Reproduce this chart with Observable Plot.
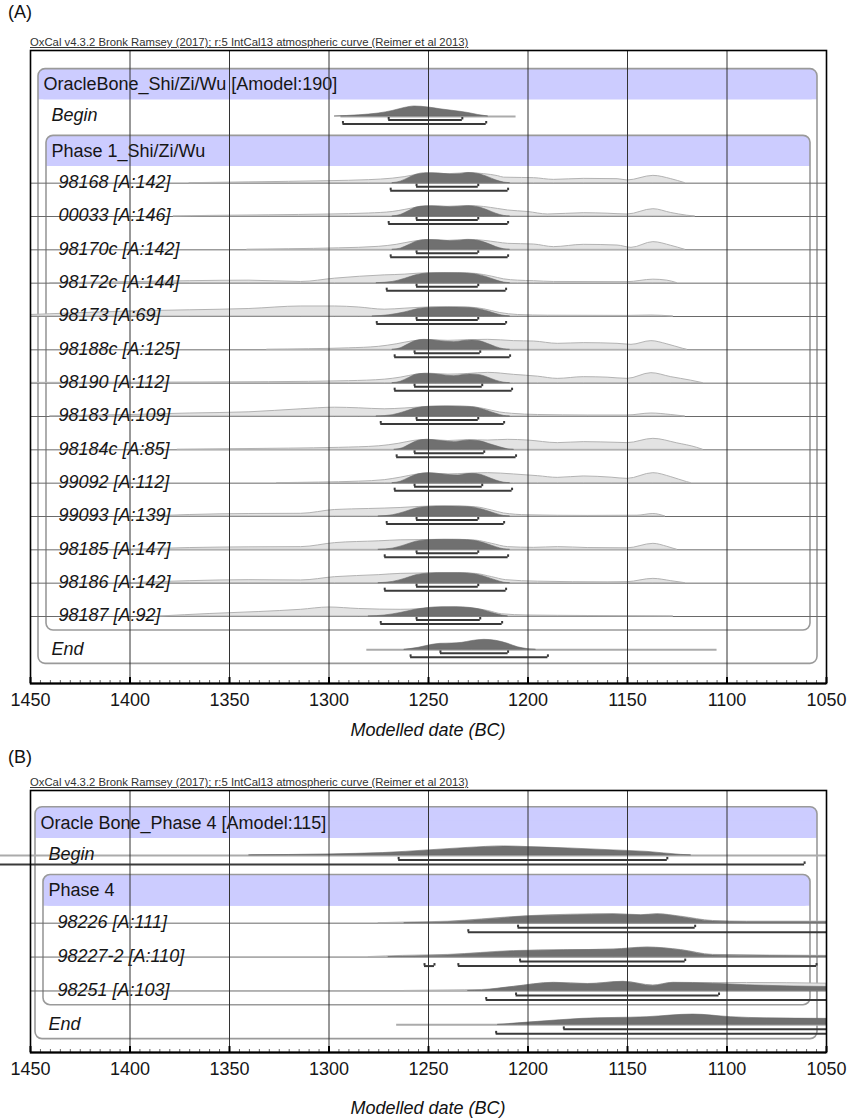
<!DOCTYPE html>
<html><head><meta charset="utf-8">
<script src="https://cdn.jsdelivr.net/npm/d3@7"></script>
<script src="https://cdn.jsdelivr.net/npm/@observablehq/plot@0.6"></script>
<style>
body{margin:0;background:#fff;font-family:"Liberation Sans",Arial,sans-serif;color:#111;}
#page{position:relative;width:848px;height:1118px;overflow:hidden;background:#fff;}
.abs{position:absolute;line-height:1;white-space:nowrap;}
.pl{font-size:18px;left:8px;}
.cap{font-size:11.3px;text-decoration:underline;color:#333;left:30px;}
.xt{font-style:italic;font-size:18px;left:30px;width:796px;text-align:center;}
</style></head><body><div id="page"></div>
<script>
const years = [1450,1400,1350,1300,1250,1200,1150,1100,1050];
const caption = "OxCal v4.3.2 Bronk Ramsey (2017); r:5 IntCal13 atmospheric curve (Reimer et al 2013)";
const axisTitle = "Modelled date (BC)";
const panelNames = ["(A)", "(B)"];

// ---------- Panel A ----------
const labelsA = ["OracleBone_Shi/Zi/Wu [Amodel:190]","Begin","Phase 1_Shi/Zi/Wu","98168 [A:142]","00033 [A:146]","98170c [A:142]","98172c [A:144]","98173 [A:69]","98188c [A:125]","98190 [A:112]","98183 [A:109]","98184c [A:85]","99092 [A:112]","99093 [A:139]","98185 [A:147]","98186 [A:142]","98187 [A:92]","End"];
const kindsA = ["group","boundary","phase","sample","sample","sample","sample","sample","sample","sample","sample","sample","sample","sample","sample","sample","sample","boundary"];
const spansA = [null,[1294,1206],null,[1450,1050],[1450,1050],[1450,1050],[1450,1050],[1450,1050],[1450,1050],[1450,1050],[1450,1050],[1450,1050],[1450,1050],[1450,1050],[1450,1050],[1450,1050],[1450,1050],[1281,1105]];
const r68A = [null,[1270,1233],null,[1256,1225],[1256,1225],[1256,1225],[1256,1225],[1256,1225],[1257,1224],[1257,1223],[1256,1225],[1257,1222],[1257,1223],[1256,1225],[1256,1225],[1256,1225],[1256,1224],[1244,1210]];
const r95A = [null,[[1293,1221]],null,[[1269,1210]],[[1270,1210]],[[1269,1210]],[[1271,1211]],[[1276,1211]],[[1267,1209]],[[1267,1208]],[[1274,1212]],[[1266,1206]],[[1267,1208]],[[1271,1212]],[[1272,1210]],[[1272,1211]],[[1274,1213]],[[1259,1190]]];
const postA = [
 null,
 [[1297,0],[1285,0.12],[1275,0.3],[1268,0.55],[1262,0.85],[1257,1.0],[1250,0.9],[1244,0.72],[1238,0.57],[1230,0.35],[1225,0.15],[1220,0]],
 null,
 [[1268,0],[1264,0.15],[1260,0.5],[1256,0.85],[1251,1.0],[1245,0.97],[1239,0.87],[1234,0.9],[1230,1.02],[1225,0.92],[1220,0.6],[1216,0.28],[1212,0.06],[1209,0]],
 [[1268,0],[1264,0.15],[1260,0.52],[1256,0.9],[1251,1.02],[1245,1.0],[1239,0.93],[1234,0.97],[1230,1.02],[1225,0.93],[1220,0.6],[1216,0.28],[1212,0.06],[1209,0]],
 [[1268,0],[1264,0.12],[1260,0.45],[1256,0.82],[1251,0.98],[1245,0.95],[1239,0.86],[1234,0.9],[1230,0.98],[1225,0.9],[1220,0.6],[1216,0.28],[1212,0.06],[1209,0]],
 [[1276,0],[1268,0.12],[1262,0.42],[1256,0.8],[1250,0.97],[1242,1.0],[1234,0.98],[1227,0.9],[1221,0.62],[1216,0.28],[1212,0.06],[1209,0]],
 [[1278,0],[1270,0.12],[1262,0.4],[1255,0.75],[1248,0.88],[1240,0.9],[1232,0.88],[1226,0.78],[1220,0.5],[1215,0.2],[1211,0.04],[1209,0]],
 [[1268,0],[1264,0.15],[1260,0.55],[1256,0.9],[1252,1.0],[1246,0.92],[1241,0.8],[1237,0.77],[1232,0.88],[1228,0.93],[1224,0.85],[1220,0.58],[1216,0.27],[1212,0.05],[1209,0]],
 [[1268,0],[1264,0.14],[1260,0.5],[1256,0.85],[1252,0.93],[1246,0.87],[1241,0.75],[1237,0.7],[1232,0.82],[1229,0.87],[1224,0.8],[1220,0.55],[1216,0.25],[1212,0.05],[1209,0]],
 [[1276,0],[1268,0.13],[1262,0.45],[1256,0.82],[1250,0.97],[1242,1.0],[1234,0.98],[1227,0.9],[1221,0.6],[1216,0.27],[1212,0.06],[1209,0]],
 [[1267,0],[1263,0.15],[1259,0.55],[1255,0.9],[1251,1.0],[1245,0.9],[1240,0.8],[1237,0.77],[1233,0.87],[1229,0.93],[1224,0.85],[1219,0.55],[1214,0.25],[1210,0.05],[1207,0]],
 [[1268,0],[1264,0.14],[1260,0.5],[1255,0.88],[1250,1.0],[1244,0.9],[1239,0.8],[1235,0.77],[1231,0.9],[1228,0.93],[1224,0.85],[1220,0.57],[1216,0.26],[1212,0.05],[1209,0]],
 [[1275,0],[1268,0.12],[1262,0.43],[1256,0.8],[1250,0.96],[1242,1.0],[1234,0.98],[1227,0.88],[1221,0.58],[1216,0.26],[1212,0.05],[1209,0]],
 [[1275,0],[1268,0.12],[1262,0.44],[1256,0.82],[1250,0.97],[1242,1.0],[1234,0.99],[1227,0.9],[1221,0.6],[1216,0.27],[1212,0.05],[1209,0]],
 [[1275,0],[1268,0.12],[1262,0.42],[1256,0.8],[1250,0.95],[1242,1.0],[1234,1.0],[1227,0.9],[1221,0.6],[1216,0.27],[1212,0.05],[1209,0]],
 [[1280,0],[1272,0.1],[1264,0.35],[1257,0.65],[1250,0.85],[1243,0.93],[1236,0.93],[1229,0.85],[1223,0.65],[1218,0.35],[1213,0.1],[1210,0]],
 [[1262,0],[1255,0.2],[1248,0.5],[1244,0.6],[1238,0.63],[1233,0.7],[1228,0.88],[1222,1.0],[1216,0.9],[1210,0.6],[1205,0.25],[1200,0.07],[1196,0]]
];
const likeA = [
 null, null, null,
 [[1370,0],[1340,0.08],[1300,0.2],[1280,0.3],[1268,0.45],[1262,0.6],[1255,0.85],[1248,0.95],[1240,0.9],[1230,1.0],[1222,0.9],[1215,0.7],[1212,0.55],[1203,0.52],[1197,0.5],[1187,0.33],[1172,0.43],[1155,0.4],[1150,0.27],[1137,0.73],[1128,0.4],[1121,0]],
 [[1378,0],[1360,0.06],[1330,0.12],[1300,0.2],[1280,0.3],[1268,0.45],[1262,0.65],[1255,0.9],[1248,1.0],[1240,0.97],[1230,1.05],[1222,0.95],[1215,0.75],[1210,0.6],[1200,0.45],[1190,0.2],[1172,0.33],[1160,0.28],[1150,0.2],[1137,0.73],[1128,0.35],[1120,0.08],[1116,0]],
 [[1341,0],[1320,0.06],[1295,0.15],[1275,0.3],[1266,0.5],[1258,0.8],[1250,0.95],[1240,0.9],[1230,1.0],[1222,0.9],[1215,0.72],[1210,0.6],[1197,0.53],[1187,0.27],[1172,0.5],[1155,0.43],[1148,0.2],[1137,0.77],[1128,0.4],[1121,0]],
 [[1440,0],[1400,0.1],[1370,0.2],[1340,0.25],[1314,0.12],[1297,0.45],[1272,0.78],[1262,0.85],[1255,0.95],[1245,1.0],[1235,1.0],[1226,0.92],[1218,0.65],[1212,0.38],[1205,0.25],[1197,0.2],[1187,0.12],[1150,0.1],[1137,0.35],[1130,0.25],[1125,0]],
 [[1450,0.15],[1430,0.3],[1400,0.5],[1370,0.62],[1340,0.75],[1314,1.0],[1297,1.0],[1285,0.9],[1272,0.68],[1262,0.78],[1250,0.9],[1240,0.92],[1230,0.9],[1222,0.72],[1214,0.35],[1205,0.15],[1190,0.08],[1150,0.06],[1138,0.1],[1127,0]],
 [[1331,0],[1310,0.06],[1290,0.15],[1275,0.3],[1266,0.55],[1258,0.85],[1250,0.97],[1240,0.9],[1230,0.97],[1220,1.0],[1207,0.87],[1197,0.83],[1185,0.6],[1172,0.67],[1155,0.6],[1148,0.5],[1138,0.87],[1130,0.55],[1122,0.1],[1120,0]],
 [[1450,0.03],[1400,0.05],[1330,0.1],[1290,0.2],[1272,0.35],[1264,0.55],[1256,0.85],[1250,0.95],[1240,0.85],[1230,0.92],[1220,1.03],[1207,0.83],[1195,0.65],[1185,0.43],[1172,0.6],[1160,0.55],[1150,0.43],[1138,1.0],[1128,0.6],[1118,0.25],[1112,0]],
 [[1440,0.02],[1420,0.08],[1400,0.15],[1370,0.3],[1340,0.42],[1314,0.72],[1297,0.88],[1285,0.82],[1272,0.72],[1262,0.8],[1250,0.95],[1240,1.0],[1230,0.97],[1222,0.75],[1214,0.4],[1208,0.27],[1195,0.15],[1170,0.1],[1150,0.1],[1138,0.3],[1128,0.15],[1121,0]],
 [[1376,0],[1350,0.06],[1320,0.12],[1295,0.2],[1275,0.35],[1265,0.6],[1257,0.9],[1250,1.0],[1240,0.88],[1230,0.97],[1220,0.93],[1210,1.0],[1200,0.93],[1185,0.67],[1172,0.77],[1155,0.7],[1150,0.67],[1137,1.1],[1125,0.65],[1115,0.2],[1112,0]],
 [[1326,0],[1305,0.06],[1285,0.15],[1272,0.3],[1264,0.55],[1256,0.85],[1250,0.97],[1240,0.87],[1230,0.95],[1220,1.0],[1207,0.87],[1195,0.7],[1185,0.53],[1172,0.67],[1158,0.55],[1150,0.43],[1137,1.0],[1128,0.6],[1120,0.1],[1118,0]],
 [[1390,0],[1370,0.15],[1340,0.25],[1314,0.27],[1297,0.65],[1280,0.75],[1264,0.85],[1255,0.95],[1245,1.0],[1235,1.0],[1226,0.92],[1218,0.6],[1212,0.3],[1200,0.12],[1170,0.06],[1145,0.08],[1137,0.25],[1131,0]],
 [[1400,0],[1370,0.18],[1340,0.25],[1314,0.27],[1297,0.67],[1275,0.85],[1264,0.95],[1255,0.97],[1245,1.0],[1235,1.0],[1226,0.92],[1218,0.6],[1210,0.27],[1197,0.2],[1185,0.27],[1170,0.18],[1150,0.15],[1137,0.6],[1130,0.3],[1125,0]],
 [[1400,0],[1370,0.2],[1340,0.3],[1314,0.27],[1297,0.6],[1275,0.8],[1264,0.93],[1255,0.96],[1245,1.0],[1235,1.0],[1226,0.92],[1218,0.6],[1211,0.3],[1195,0.15],[1160,0.08],[1150,0.1],[1137,0.43],[1128,0.2],[1121,0]],
 [[1385,0],[1360,0.25],[1335,0.45],[1314,0.67],[1300,0.9],[1285,0.75],[1264,0.67],[1255,0.72],[1245,0.85],[1236,0.88],[1228,0.8],[1220,0.55],[1213,0.22],[1200,0.1],[1170,0.05],[1127,0]],
 null
];

// ---------- Panel B ----------
const labelsB = ["Oracle Bone_Phase 4 [Amodel:115]","Begin","Phase 4","98226 [A:111]","98227-2 [A:110]","98251 [A:103]","End"];
const kindsB = ["group","boundary","phase","sample","sample","sample","boundary"];
const spansB = [null,[1466,1050],null,[1450,1050],[1450,1050],[1450,1050],[1266,1050]];
const r68B = [null,[1265,1130],null,[1205,1116],[1204,1121],[1206,1104],[1182,1050]];
const r95B = [null,[[1466,1061]],null,[[1230,1050]],[[1252,1247],[1235,1055]],[[1221,1050]],[[1216,1050]]];
const postB = [
 null,
 [[1340,0],[1300,0.1],[1273,0.23],[1250,0.5],[1230,0.75],[1212,0.9],[1200,0.83],[1180,0.7],[1157,0.5],[1140,0.35],[1123,0.05],[1118,0]],
 null,
 [[1262,0],[1240,0.1],[1223,0.33],[1200,0.67],[1175,0.8],[1157,0.87],[1143,0.77],[1135,0.87],[1123,0.6],[1107,0.17],[1090,0.1],[1050,0.1]],
 [[1270,0],[1257,0.07],[1240,0.17],[1207,0.57],[1180,0.68],[1157,0.73],[1140,0.93],[1123,0.67],[1107,0.17],[1050,0.07]],
 [[1230,0],[1223,0.05],[1207,0.4],[1187,0.8],[1170,0.67],[1152,0.9],[1137,0.5],[1127,0.8],[1107,0.73],[1090,0.57],[1050,0.4]],
 [[1215,0],[1195,0.3],[1173,0.6],[1140,0.77],[1117,1.03],[1098,0.77],[1080,0.65],[1050,0.6]]
];
const likeB = [
 null, null, null,
 [[1275,0],[1257,0.08],[1240,0.15],[1223,0.38],[1200,0.7],[1157,0.9],[1143,0.8],[1135,0.9],[1123,0.65],[1107,0.22],[1090,0.15],[1050,0.15]],
 [[1280,0],[1263,0.12],[1240,0.22],[1207,0.6],[1157,0.76],[1140,0.96],[1123,0.7],[1107,0.22],[1050,0.12]],
 [[1262,0],[1240,0.05],[1223,0.1],[1207,0.42],[1187,0.82],[1170,0.7],[1152,0.92],[1137,0.55],[1127,0.82],[1107,0.78],[1090,0.8],[1050,0.73]],
 null
];

function drawPanel(c) {
  const mt = 2, mb = 32, ml = 30, mr = 22;
  const innerH = c.height - mt - mb;
  const H = 10 / c.pxSlot, capH = 2.5 / c.pxSlot;
  const o68 = c.off68 / c.pxSlot, o95 = c.off95 / c.pxSlot;
  const hTop = 0.42, hBot = 0.5, bBot = 0.42;
  const lo = years[years.length - 1], hi = years[0];
  const g = c.kinds.indexOf("group"), p = c.kinds.indexOf("phase");
  const last = c.labels.length - 1, lastS = c.kinds.lastIndexOf("sample");
  const boxes = [{i: g, end: last, inL: c.box[0], inR: 9}, {i: p, end: lastS, inL: c.box[1], inR: 16}];
  const area = arr => arr.flatMap((pts, i) => pts ? pts.map(([x, d]) => ({x, y1: i, y2: i - d * H, z: i})) : []);
  const bars = [];
  c.r68.forEach((r, i) => { if (r) bars.push({x1: r[0], x2: r[1], y: i + o68}); });
  c.r95.forEach((s, i) => { if (s) s.forEach(r => bars.push({x1: r[0], x2: r[1], y: i + o95})); });
  const caps = bars.flatMap(b => [b.x1, b.x2].filter(x => x < hi && x > lo).map(x => ({x, y1: b.y, y2: b.y - capH})));
  const lines = c.spans.flatMap((s, i) => s ? [{x1: s[0], x2: s[1], y: i, kind: c.kinds[i]}] : []);
  const rows = c.labels.map((label, i) => ({label, kind: c.kinds[i], y: c.kinds[i] === "group" || c.kinds[i] === "phase" ? i + 0.04 : i - 0.03}));
  const minor = d3.range(hi, lo - 1, -5).filter(v => v % 50 !== 0);
  const textMark = (kind, dx, italic) => Plot.text(rows.filter(r => r.kind === kind), {
    y: "y", text: "label", frameAnchor: "left", textAnchor: "start", dx,
    fontSize: 18, fontStyle: italic ? "italic" : "normal", fill: "#161616"
  });
  const marks = [];
  boxes.forEach(b => {
    marks.push(Plot.rect([b], {y1: d => d.i - hTop, y2: d => d.i + hBot, fill: "#ccccff", rx: 6, insetLeft: b.inL, insetRight: b.inR}));
    marks.push(Plot.rect([b], {y1: d => d.i, y2: d => d.i + hBot, fill: "#ccccff", insetLeft: b.inL, insetRight: b.inR}));
    marks.push(Plot.rect([b], {y1: d => d.i - hTop, y2: d => d.end + bBot, fill: "none", stroke: "#9a9a9a", strokeWidth: 1.6, rx: 7, insetLeft: b.inL, insetRight: b.inR}));
  });
  marks.push(
    Plot.ruleY(lines.filter(l => l.kind === "sample"), {x1: "x1", x2: "x2", y: "y", stroke: "#6a6a6a", strokeWidth: 1}),
    Plot.ruleY(lines.filter(l => l.kind === "boundary"), {x1: "x1", x2: "x2", y: "y", stroke: "#ababab", strokeWidth: 2}),
    Plot.areaY(area(c.like), {x: "x", y1: "y1", y2: "y2", z: "z", fill: "#e3e3e3", stroke: "#b3b3b3", strokeWidth: 1, curve: "monotone-x", clip: true}),
    Plot.areaY(area(c.post), {x: "x", y1: "y1", y2: "y2", z: "z", fill: "#707070", stroke: "#6a6a6a", strokeWidth: 0.6, curve: "monotone-x", clip: true}),
    Plot.ruleY(bars, {x1: "x1", x2: "x2", y: "y", stroke: "#3a3a3a", strokeWidth: 2}),
    Plot.ruleX(caps, {x: "x", y1: "y1", y2: "y2", stroke: "#3a3a3a", strokeWidth: 2}),
    textMark("group", c.dx[0], false),
    textMark("phase", c.dx[1], false),
    textMark("boundary", c.dx[2], true),
    textMark("sample", c.dx[3], true),
    Plot.ruleX(years.slice(1, -1), {stroke: "#333", strokeWidth: 1}),
    Plot.ruleX(years, {insetTop: innerH - 6, stroke: "#000", strokeWidth: 2}),
    Plot.ruleX(minor, {insetTop: innerH - 3, stroke: "#666", strokeWidth: 1}),
    Plot.frame({stroke: "#000", strokeWidth: 1.6}),
    Plot.ruleY([c.yDomain[1]], {stroke: "#000", strokeWidth: 2})
  );
  return Plot.plot({
    width: 848, height: c.height,
    marginTop: mt, marginBottom: mb, marginLeft: ml, marginRight: mr,
    x: {domain: [hi, lo], ticks: years, tickSize: 0, tickPadding: 10, tickFormat: d => String(d), label: null},
    y: {domain: c.yDomain, reverse: true, axis: null},
    style: {fontFamily: "'Liberation Sans', Arial, sans-serif", fontSize: "18px", color: "#161616", background: "white", overflow: "visible"},
    marks
  });
}

const page = document.getElementById("page");
function addDiv(cls, text, top) {
  const d = document.createElement("div");
  d.className = "abs " + cls; d.textContent = text; d.style.top = top + "px";
  page.appendChild(d);
}
function addSvg(svg, top) {
  const w = document.createElement("div");
  w.className = "abs"; w.style.left = "0px"; w.style.top = top + "px";
  w.appendChild(svg); page.appendChild(w);
}

addDiv("pl", panelNames[0], 3);
addDiv("cap", caption, 37);
addSvg(drawPanel({labels: labelsA, kinds: kindsA, spans: spansA, r68: r68A, r95: r95A, post: postA, like: likeA,
  yDomain: [-0.98, 18.01], pxSlot: 33.33, height: 667, off68: 3.5, off95: 7.5, box: [8, 16], dx: [13, 21, 21, 28]}), 48);
addDiv("xt", axisTitle, 721);

addDiv("pl", panelNames[1], 748);
addDiv("cap", caption, 777);
addSvg(drawPanel({labels: labelsB, kinds: kindsB, spans: spansB, r68: r68B, r95: r95B, post: postB, like: likeB,
  yDomain: [-0.914, 6.815], pxSlot: 33.9, height: 296, off68: 4.5, off95: 9, box: [5, 13], dx: [10, 18, 18, 27]}), 788);
addDiv("xt", axisTitle, 1099);
</script></body></html>
